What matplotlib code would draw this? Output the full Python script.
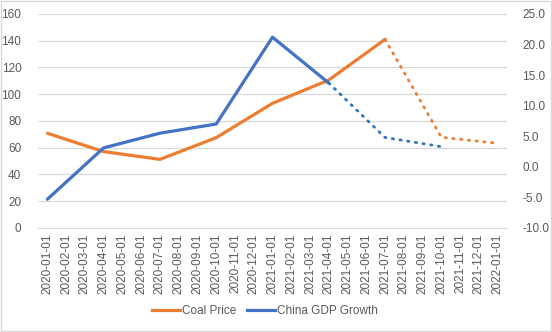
import numpy as np
import matplotlib
matplotlib.use("Agg")
import matplotlib.pyplot as plt
from matplotlib.lines import Line2D

plt.rcParams['font.family'] = ['Liberation Sans', 'DejaVu Sans']

# monthly category labels
dates = ['2020-01-01', '2020-02-01', '2020-03-01', '2020-04-01', '2020-05-01',
         '2020-06-01', '2020-07-01', '2020-08-01', '2020-09-01', '2020-10-01',
         '2020-11-01', '2020-12-01', '2021-01-01', '2021-02-01', '2021-03-01',
         '2021-04-01', '2021-05-01', '2021-06-01', '2021-07-01', '2021-08-01',
         '2021-09-01', '2021-10-01', '2021-11-01', '2021-12-01', '2022-01-01']

# coal price (left axis) - actual then dotted projection
coal_idx = [0, 3, 6, 9, 12, 15, 18]
coal_price = [70.8, 57.1, 51.3, 67.5, 93.2, 110.6, 141.0]
coal_proj_idx = [18, 21, 24]
coal_proj = [141.0, 67.8, 63.3]

# china gdp growth (right axis)
gdp_idx = [0, 3, 6, 9, 12, 15]
gdp = [-5.3, 3.1, 5.5, 7.0, 21.2, 13.7]
gdp_proj_idx = [15, 18, 21]
gdp_proj = [13.7, 4.8, 3.3]

orange = '#ED7D31'
blue = '#4472C4'
blue_dot = '#2E75C6'
grey = '#595959'

fig = plt.figure(figsize=(5.52, 3.32), dpi=100)
ax = fig.add_axes([0.0688, 0.3133, 0.8497, 0.6447])
ax2 = ax.twinx()

ax.plot(coal_idx, coal_price, color=orange, lw=2.3, solid_capstyle='round', zorder=3)
ax.plot(coal_proj_idx, coal_proj, color=orange, lw=2.0, linestyle=(0, (0.5, 2.3)),
        dash_capstyle='round', zorder=3)
ax2.plot(gdp_idx, gdp, color=blue, lw=2.3, solid_capstyle='round', zorder=3)
ax2.plot(gdp_proj_idx, gdp_proj, color=blue_dot, lw=2.0, linestyle=(0, (0.5, 2.3)),
         dash_capstyle='round', zorder=3)

ax.set_xlim(-0.5, len(dates) - 0.5)
ax.set_ylim(0, 160)
ax.set_yticks(np.arange(0, 161, 20))
ax2.set_ylim(-10, 25)
ax2.set_yticks(np.arange(-10, 26, 5))
ax2.set_yticklabels(['%.1f' % v for v in np.arange(-10, 26, 5)])

ax.set_xticks(range(len(dates)))
ax.set_xticklabels(dates, rotation=90)

ax.grid(axis='y', color='#D9D9D9', lw=0.9)
ax.set_axisbelow(True)
for a in (ax, ax2):
    for s in a.spines.values():
        s.set_visible(False)
    a.tick_params(length=0, colors=grey, labelsize=8.5)
ax.spines['bottom'].set_visible(True)
ax.spines['bottom'].set_color('#D9D9D9')
ax.tick_params(axis='y', pad=12)
ax2.tick_params(axis='y', pad=11)
ax.tick_params(axis='x', pad=4)

handles = [Line2D([0], [0], color=orange, lw=2.3),
           Line2D([0], [0], color=blue, lw=2.3)]
fig.legend(handles, ['Coal Price', 'China GDP Growth'], loc='center',
           bbox_to_anchor=(0.48, 0.064), ncol=2, frameon=False, fontsize=8.5,
           handlelength=2.4, handletextpad=0.15, columnspacing=0.9,
           labelcolor=grey)

fig.patches.append(plt.Rectangle((0.002, 0.003), 0.996, 0.994, transform=fig.transFigure,
                                 fill=False, edgecolor='#D9D9D9', lw=1))

fig.savefig('out.png', dpi=100)
